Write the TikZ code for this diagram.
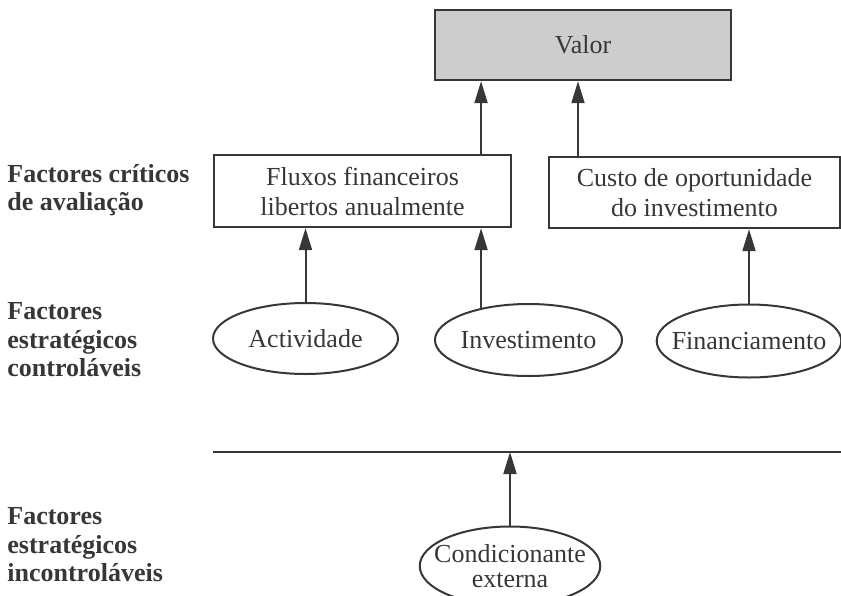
\documentclass[tikz,border=0pt]{standalone}
\usepackage{fontspec}
\setmainfont{Liberation Serif}
\usetikzlibrary{shapes.geometric,arrows.meta}
\definecolor{ink}{RGB}{55,55,55}

\begin{document}
\begin{tikzpicture}[x=0.5pt, y=-0.5pt,
  every node/.style={font=\fontsize{13}{15}\selectfont, text=ink},
  box/.style={draw=ink, line width=1.2pt, inner sep=0pt, align=center},
  oval/.style={draw=ink, line width=1pt, ellipse, inner xsep=-6pt, inner ysep=-8pt, align=center},
  level/.style={anchor=west, align=left, inner sep=0pt,
    font=\fontsize{13}{14.2}\selectfont\bfseries},
  arr/.style={draw=ink, line width=1pt, -{Triangle[length=11pt,width=6.5pt]}}]

\useasboundingbox (0,0) rectangle (841,595);

% levels on the left
\node[level] (lvlcrit) at (7,190) {Factores críticos\\de avaliação};
\node[level] (lvlctrl) at (7,340) {Factores\\estratégicos\\controláveis};
\node[level] (lvlunct) at (7,545) {Factores\\estratégicos\\incontroláveis};

% boxes
\node[box, fill=ink!25, minimum width=148pt, minimum height=35pt] (valor) at (583,45) {Valor};
\node[box, minimum width=148.5pt, minimum height=36pt] (fluxos) at (362.5,191) {Fluxos financeiros\\libertos anualmente};
\node[box, minimum width=145.5pt, minimum height=35.5pt] (custo) at (694.5,192.5) {Custo de oportunidade\\do investimento};

% ovals
\node[oval, minimum width=92.5pt, minimum height=35.5pt] (activ) at (305.5,338.5) {Actividade};
\node[oval, minimum width=93.5pt, minimum height=36pt] (invest) at (528.5,340) {Investimento};
\node[oval, minimum width=89pt, minimum height=36.5pt] (financ) at (749,341) {Financiamento};
\node[oval, minimum width=89pt, minimum height=39.5pt,
  font=\fontsize{13}{12.5}\selectfont] (condic) at (510,566) {Condicionante\\externa};

% separator
\coordinate (sepl) at (213,452);
\coordinate (sepr) at (841,452);
\draw[ink, line width=1pt] (sepl) -- (sepr);

% arrows
\draw[arr] (activ.north) -- (activ.north |- fluxos.south);
\draw[arr] (invest.146) -- (invest.146 |- fluxos.south);
\draw[arr] (financ.north) -- (financ.north |- custo.south);
\draw[arr] (invest.146 |- fluxos.north) -- (invest.146 |- valor.south);
\draw[arr] ([xshift=-2.5pt]valor.south |- custo.north) -- ([xshift=-2.5pt]valor.south);
\draw[arr] (condic.north) -- (condic.north |- sepl);

\end{tikzpicture}
\end{document}
